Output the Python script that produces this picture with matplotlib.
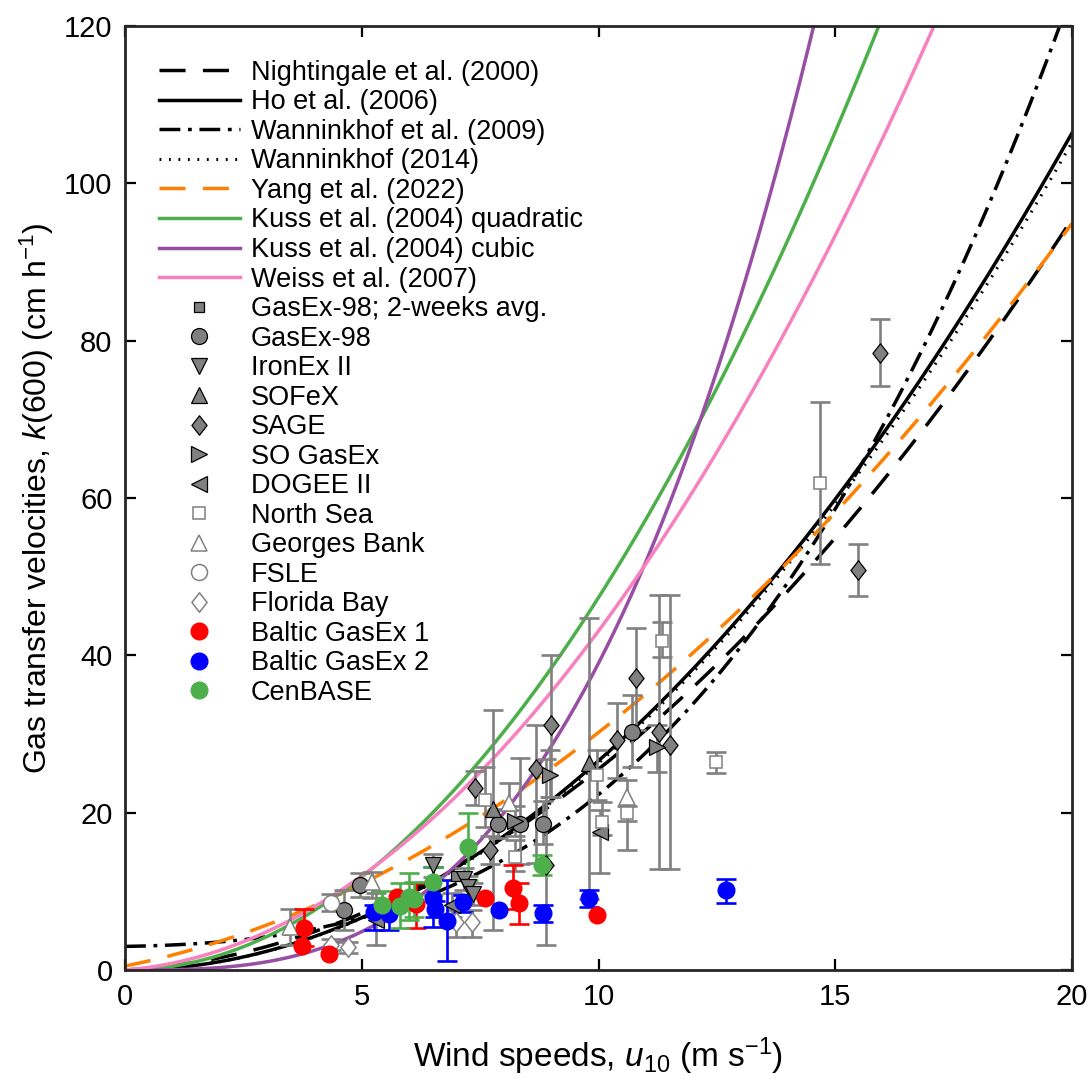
import numpy as np
import matplotlib
matplotlib.use("Agg")
import matplotlib.pyplot as plt
from matplotlib.path import Path

plt.rcParams['font.family'] = ['Liberation Sans', 'DejaVu Sans']
plt.rcParams['mathtext.fontset'] = 'custom'
plt.rcParams['mathtext.rm'] = 'Liberation Sans'
plt.rcParams['mathtext.it'] = 'Liberation Sans:italic'

#Parameterisation coefficients
nightingale = [0.222, 0.333]
ho = [0.266]
wann09 = [3.0, 0.105, 0.0671, 0.01154]
wann14 = [0.263]
yang = [0.5, 1.22, 0.175]
kuss_quad = [0.4735]
kuss_cub = [0.039]
weiss = [0.383, 0.48]

#Field data: wind speed, k600, error bar low/high
gx2_u = [7.0]
gx2_k = [11.9]

gasex_u = [4.63, 4.97, 7.88, 8.34, 8.83, 10.7]
gasex_k = [7.6, 10.8, 18.6, 18.6, 18.6, 30.3]
gasex_lo = [5.1, 9.3, 16.8, 13.5, 16.0, 25.8]
gasex_hi = [10.2, 12.3, 20.5, 26.9, 21.5, 35.0]

ironex_u = [6.5, 7.15, 7.25, 7.35]
ironex_k = [13.3, 11.6, 10.6, 9.6]
ironex_lo = [11.8, 10.2, 9.2, 8.3]
ironex_hi = [14.8, 13.0, 12.0, 11.0]

sofex_u = [7.78, 9.79]
sofex_k = [20.5, 26.3]
sofex_lo = [5.1, 9.0]
sofex_hi = [33.0, 44.7]

sage_u = [7.39, 7.7, 8.69, 8.99, 8.9, 10.38, 10.79, 11.28, 11.5, 15.49, 15.95]
sage_k = [23.1, 15.3, 25.6, 31.1, 13.4, 29.2, 37.1, 30.3, 28.6, 50.9, 78.4]
sage_lo = [21.0, 13.5, 13.6, 22.0, 3.2, 24.4, 30.5, 12.9, 12.9, 47.5, 74.2]
sage_hi = [25.3, 17.0, 31.1, 40.0, 26.8, 33.9, 43.5, 47.7, 47.7, 54.2, 82.7]

sogasex_u = [8.24, 8.98, 11.23]
sogasex_k = [18.9, 24.8, 28.4]
sogasex_lo = [17.0, 22.0, 25.2]
sogasex_hi = [20.8, 28.0, 31.1]

dogee_u = [5.3, 6.9, 10.03]
dogee_k = [6.4, 8.3, 17.6]
dogee_lo = [3.2, 6.8, 12.3]
dogee_hi = [9.8, 9.8, 20.3]

nsea_u = [7.6, 8.24, 9.96, 10.07, 10.6, 11.35, 12.48, 14.68]
nsea_k = [21.6, 14.4, 24.8, 18.85, 19.9, 41.8, 26.5, 61.95]
nsea_lo = [18.2, 12.6, 21.6, 17.2, 18.9, 39.8, 25.0, 51.6]
nsea_hi = [25.8, 16.5, 28.0, 21.4, 20.9, 44.3, 27.7, 72.2]

georges_u = [3.48, 5.21, 8.1, 10.6]
georges_k = [5.5, 11.2, 21.2, 22.0]
georges_lo = [3.2, 9.1, 20.3, 15.3]
georges_hi = [7.8, 12.5, 23.8, 24.2]

fsle_u = [4.36]
fsle_k = [8.5]
fsle_lo = [7.5]
fsle_hi = [9.7]

florida_u = [4.35, 4.7, 7.0, 7.32]
florida_k = [3.2, 2.9, 6.1, 6.1]
florida_lo = [2.5, 2.2, 4.2, 4.2]
florida_hi = [3.9, 3.6, 7.6, 7.6]

baltic1_u = [3.73, 3.77, 4.3, 5.75, 6.15, 7.6, 8.2, 8.33, 9.97]
baltic1_k = [3.0, 5.4, 2.0, 9.3, 8.4, 9.1, 10.4, 8.5, 7.0]
baltic1_lo = [3.0, 3.0, 2.0, 9.3, 5.3, 9.1, 7.8, 5.9, 7.0]
baltic1_hi = [3.0, 7.8, 2.0, 9.3, 11.0, 9.1, 13.3, 11.1, 7.0]

baltic2_u = [5.25, 5.57, 6.5, 6.55, 6.8, 7.13, 7.9, 8.82, 9.8, 12.7]
baltic2_k = [7.4, 7.1, 9.1, 7.8, 6.2, 8.6, 7.6, 7.2, 9.2, 10.2]
baltic2_lo = [5.1, 5.1, 5.5, 6.8, 1.1, 7.4, 7.6, 6.1, 8.05, 8.5]
baltic2_hi = [8.3, 8.3, 13.1, 8.8, 11.4, 9.5, 7.6, 8.3, 10.2, 11.6]

cenbase_u = [5.42, 5.8, 6.0, 6.1, 6.51, 7.25, 8.8]
cenbase_k = [8.3, 8.1, 9.3, 9.0, 11.2, 15.7, 13.4]
cenbase_lo = [6.4, 5.3, 6.4, 6.8, 9.5, 11.4, 12.1]
cenbase_hi = [10.0, 11.0, 12.3, 11.2, 13.1, 20.0, 14.6]

#Colours
grey = (0.5, 0.5, 0.5)
orange = "#ff7f00"
green = "#4daf4a"
purple = "#984ea3"
pink = "#f781bf"

#MATLAB-like diamond (a bit taller than wide)
diamond = Path([(0, 1), (0.78, 0), (0, -1), (-0.78, 0), (0, 1)],
               [Path.MOVETO, Path.LINETO, Path.LINETO, Path.LINETO, Path.CLOSEPOLY])

fig = plt.figure(figsize=(10.89, 10.79), dpi=100)
ax = fig.add_axes([0.1148, 0.1010, 0.8696, 0.8749])

#Curves
u = np.linspace(0, 20, 600)
ax.plot(u, nightingale[0]*u**2 + nightingale[1]*u, color="k", lw=2.5, dashes=(7.5, 5), label="Nightingale et al. (2000)")
ax.plot(u, ho[0]*u**2, color="k", lw=2.5, label="Ho et al. (2006)")
ax.plot(u, wann09[0] + wann09[1]*u + wann09[2]*u**2 + wann09[3]*u**3, color="k", lw=2.5,
        dashes=(6, 2.2, 1.1, 2.2), label="Wanninkhof et al. (2009)")
ax.plot(u, wann14[0]*u**2, color="k", lw=2.2, dashes=(0.6, 2.5), label="Wanninkhof (2014)")
ax.plot(u, yang[0] + yang[1]*u + yang[2]*u**2, color=orange, lw=2.5, dashes=(7.5, 5), label="Yang et al. (2022)")
ax.plot(u, kuss_quad[0]*u**2, color=green, lw=2.5, label="Kuss et al. (2004) quadratic")
ax.plot(u, kuss_cub[0]*u**3, color=purple, lw=2.5, label="Kuss et al. (2004) cubic")
ax.plot(u, weiss[0]*u**2 + weiss[1]*u, color=pink, lw=2.5, label="Weiss et al. (2007)")

#Error bars first, markers on top
def bars(x, y, lo, hi, col):
	x = np.array(x)
	y = np.array(y)
	lo = np.array(lo)
	hi = np.array(hi)
	m = hi > lo
	if m.sum() == 0:
		return
	ax.errorbar(x[m], y[m], yerr=[y[m] - lo[m], hi[m] - y[m]], fmt="none", ecolor=col,
	            elinewidth=1.9, capsize=7, capthick=1.9, zorder=3)

bars(gasex_u, gasex_k, gasex_lo, gasex_hi, grey)
bars(ironex_u, ironex_k, ironex_lo, ironex_hi, grey)
bars(sofex_u, sofex_k, sofex_lo, sofex_hi, grey)
bars(sage_u, sage_k, sage_lo, sage_hi, grey)
bars(sogasex_u, sogasex_k, sogasex_lo, sogasex_hi, grey)
bars(dogee_u, dogee_k, dogee_lo, dogee_hi, grey)
bars(nsea_u, nsea_k, nsea_lo, nsea_hi, grey)
bars(georges_u, georges_k, georges_lo, georges_hi, grey)
bars(fsle_u, fsle_k, fsle_lo, fsle_hi, grey)
bars(florida_u, florida_k, florida_lo, florida_hi, grey)
bars(baltic1_u, baltic1_k, baltic1_lo, baltic1_hi, "red")
bars(baltic2_u, baltic2_k, baltic2_lo, baltic2_hi, "blue")
bars(cenbase_u, cenbase_k, cenbase_lo, cenbase_hi, green)

ms = 11.5
filled = dict(ls="none", mfc=grey, mec="k", mew=0.9, zorder=4)
opened = dict(ls="none", mfc="white", mec=grey, mew=1.1, zorder=4)
ax.plot(gx2_u, gx2_k, "s", ms=7, label="GasEx-98; 2-weeks avg.", **filled)
ax.plot(gasex_u, gasex_k, "o", ms=ms, label="GasEx-98", **filled)
ax.plot(ironex_u, ironex_k, "v", ms=ms, label="IronEx II", **filled)
ax.plot(sofex_u, sofex_k, "^", ms=ms, label="SOFeX", **filled)
ax.plot(sage_u, sage_k, marker=diamond, ms=14, label="SAGE", **filled)
ax.plot(sogasex_u, sogasex_k, ">", ms=ms, label="SO GasEx", **filled)
ax.plot(dogee_u, dogee_k, "<", ms=ms, label="DOGEE II", **filled)
ax.plot(nsea_u, nsea_k, "s", ms=8, label="North Sea", **opened)
ax.plot(georges_u, georges_k, "^", ms=ms, label="Georges Bank", **opened)
ax.plot(fsle_u, fsle_k, "o", ms=ms, label="FSLE", **opened)
ax.plot(florida_u, florida_k, marker=diamond, ms=14, label="Florida Bay", **opened)
ax.plot(baltic1_u, baltic1_k, "o", ms=12, ls="none", mfc="red", mec="red", label="Baltic GasEx 1", zorder=5)
ax.plot(baltic2_u, baltic2_k, "o", ms=12, ls="none", mfc="blue", mec="blue", label="Baltic GasEx 2", zorder=5)
ax.plot(cenbase_u, cenbase_k, "o", ms=12, ls="none", mfc=green, mec=green, label="CenBASE", zorder=5)

ax.set_xlim(0, 20)
ax.set_ylim(0, 120)
ax.set_xticks([0, 5, 10, 15, 20])
ax.set_yticks([0, 20, 40, 60, 80, 100, 120])
ax.tick_params(direction="in", length=8, width=1.6, labelsize=21, top=True, right=True, pad=9)
for s in ax.spines.values():
	s.set_linewidth(2.0)
	s.set_color("#262626")

ax.set_xlabel("Wind speeds, $u_{10}$ (m s$^{-1}$)", fontsize=24, labelpad=18)
ax.set_ylabel("Gas transfer velocities, $k$(600) (cm h$^{-1}$)", fontsize=23, labelpad=6)

ax.legend(loc="upper left", frameon=False, fontsize=19.5, handlelength=3.0, handletextpad=0.4,
          labelspacing=0.13, borderaxespad=0.85, numpoints=1)

fig.savefig("out.png", dpi=100)
